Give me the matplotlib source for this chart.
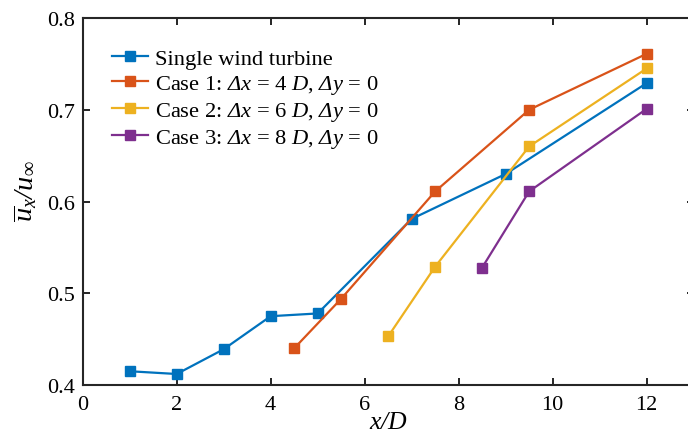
import numpy as np
import matplotlib
matplotlib.use("Agg")
import matplotlib.pyplot as plt

# data
x_single = [1, 2, 3, 4, 5, 7, 9, 12]
y_single = [0.415, 0.412, 0.439, 0.475, 0.478, 0.581, 0.630, 0.729]
x_case1 = [4.5, 5.5, 7.5, 9.5, 12]
y_case1 = [0.440, 0.494, 0.611, 0.700, 0.761]
x_case2 = [6.5, 7.5, 9.5, 12]
y_case2 = [0.453, 0.529, 0.660, 0.745]
x_case3 = [8.5, 9.5, 12]
y_case3 = [0.528, 0.611, 0.701]

labels = ["Single wind turbine",
          "Case 1: $Δx$ = 4 $D$, $Δy$ = 0",
          "Case 2: $Δx$ = 6 $D$, $Δy$ = 0",
          "Case 3: $Δx$ = 8 $D$, $Δy$ = 0"]
colours = ["#0072BD", "#D95319", "#EDB120", "#7E2F8E"]

plt.rcParams['font.family'] = ['Liberation Serif', 'DejaVu Serif']
# all math set in Times-like italic, like the reference
plt.rcParams['mathtext.fontset'] = 'custom'
plt.rcParams['mathtext.rm'] = 'Liberation Serif:italic'
plt.rcParams['mathtext.it'] = 'Liberation Serif:italic'
plt.rcParams['mathtext.bf'] = 'Liberation Serif:italic:bold'
plt.rcParams['mathtext.sf'] = 'Liberation Serif:italic'
plt.rcParams['mathtext.fallback'] = 'stix'
plt.rcParams['font.size'] = 16

fig = plt.figure(figsize=(6.88, 4.39), dpi=100)
ax = fig.add_axes([0.1202, 0.1207, 0.888, 0.836])

series = [(x_single, y_single), (x_case1, y_case1),
          (x_case2, y_case2), (x_case3, y_case3)]
for (xs, ys), lab, col in zip(series, labels, colours):
    ax.plot(xs, ys, "-s", color=col, lw=1.6, ms=7, label=lab)

ax.set_xlim(0, 13)
ax.set_ylim(0.4, 0.8)
ax.set_xticks([0, 2, 4, 6, 8, 10, 12])
ax.set_yticks([0.4, 0.5, 0.6, 0.7, 0.8])
ax.tick_params(direction="in", top=True, right=True, length=5, width=1.2,
               labelsize=16)
ax.tick_params(axis="x", pad=7)
ax.tick_params(axis="y", pad=5.5)
for s in ax.spines.values():
    s.set_linewidth(1.5)
    s.set_color("#262626")

ax.set_xlabel(r"$x/D$", fontsize=18.5)
ax.xaxis.set_label_coords(0.5, -0.07)
ax.set_ylabel(r"$\overline{u}_x/u_\infty$", fontsize=20.5)
ax.yaxis.set_label_coords(-0.072, 0.53)

ax.legend(loc="upper left", bbox_to_anchor=(0.033, 0.942), frameon=False,
          fontsize=16.2, handlelength=1.6, handletextpad=0.3,
          labelspacing=0.17, borderaxespad=0.0)

plt.savefig("out.png", dpi=100)
